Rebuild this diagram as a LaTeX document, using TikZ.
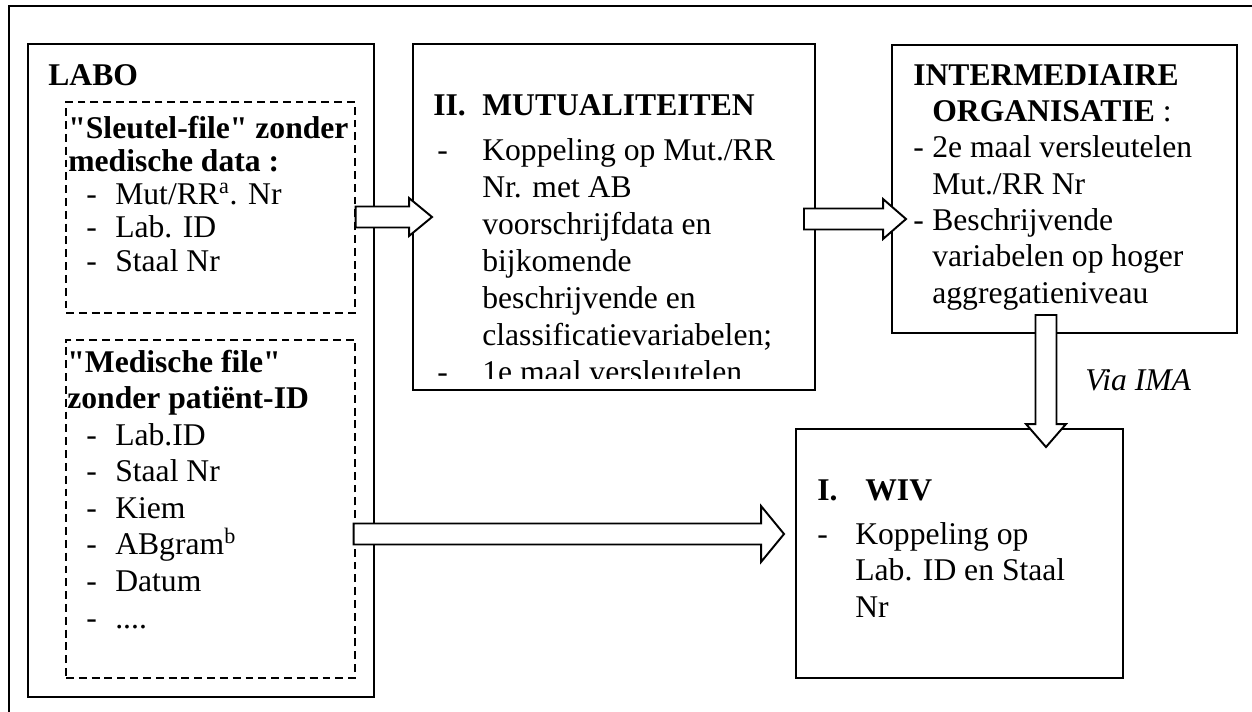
\documentclass[tikz,border=0pt]{standalone}
\usepackage{fontspec}
\setmainfont{Liberation Serif}
\usetikzlibrary{calc, fit}

\newlength{\px}
\setlength{\px}{0.02cm}

% dash of a list item: indent, then room up to the text
\newcommand{\dashit}[2]{\hspace*{#1\px}\makebox[#2\px][l]{-}}

% hollow block arrows: start, tip, half width of the head
\newcommand{\harrow}[3]{%
  \draw[blockarrow] let \p1=(#1), \p2=(#2) in
    ($(\x1,\y1)+(0,-10.5)$) -- ($(\x2,\y1)+(-23,-10.5)$) -- ($(\x2,\y1)+(-23,-#3)$)
    -- (\x2,\y1) -- ($(\x2,\y1)+(-23,#3)$) -- ($(\x2,\y1)+(-23,10.5)$)
    -- ($(\x1,\y1)+(0,10.5)$) -- cycle;}
\newcommand{\varrow}[3]{%
  \draw[blockarrow] let \p1=(#1), \p2=(#2) in
    ($(\x1,\y1)+(-10.5,0)$) -- ($(\x1,\y2)+(-10.5,-23)$) -- ($(\x1,\y2)+(-#3,-23)$)
    -- (\x1,\y2) -- ($(\x1,\y2)+(#3,-23)$) -- ($(\x1,\y2)+(10.5,-23)$)
    -- ($(\x1,\y1)+(10.5,0)$) -- cycle;}

\begin{document}
\begin{tikzpicture}[
    x=0.02cm, y=-0.02cm,
    frame/.style={line width=1.1pt},
    box/.style={
        rectangle,
        draw=black,
        line width=1.1pt,
        inner sep=0pt
    },
    filebox/.style={
        rectangle,
        draw=black,
        line width=0.8pt,
        dash pattern=on 4.5pt off 2.8pt,
        inner sep=0pt
    },
    txt/.style={
        anchor=base west,
        inner sep=0pt,
        align=left,
        font=\fontsize{18}{20.7}\selectfont
    },
    blockarrow/.style={
        draw=black,
        fill=white,
        line width=1.1pt,
        line join=miter
    }
]
\useasboundingbox (0,0) rectangle (1252,711);

% outer frame
\draw[frame] (9,720) -- (9,6) -- (1260,6);

% LABO (multi-line texts sit on the baseline of their last line)
\node[box, fit={(28,44) (374,697)}] (labo) {};
\node[txt] (labotitle) at (48,85) {\textbf{LABO}};
\node[filebox, fit={(66,102) (355,313)}] (sleutel) {};
\node[txt, font=\fontsize{18}{18.9}\selectfont] (sleuteltext) at (68,271) {%
    \textbf{\textquotedbl Sleutel-file\textquotedbl{} zonder}\\
    \textbf{medische data :}\\
    \dashit{18}{29}Mut/RR\textsuperscript{a}. Nr\\
    \dashit{18}{29}Lab. ID\\
    \dashit{18}{29}Staal Nr};
\node[filebox, fit={(66,340) (355,678)}] (medfile) {};
\node[txt, font=\fontsize{18}{20.8}\selectfont] (medtext) at (67,628) {%
    \textbf{\textquotedbl Medische file\textquotedbl}\\
    \textbf{zonder patiënt-ID}\\
    \dashit{19}{29}Lab.ID\\
    \dashit{19}{29}Staal Nr\\
    \dashit{19}{29}Kiem\\
    \dashit{19}{29}ABgram\textsuperscript{b}\\
    \dashit{19}{29}Datum\\
    \dashit{19}{29}....};

% II. Mutualiteiten
\node[box, fit={(413,44) (815,390)}] (mut) {};
\node[txt] (muttitle) at (433,115) {\textbf{\makebox[49\px][l]{II.}MUTUALITEITEN}};
\begin{scope}
\clip (415,46) rectangle (813,378);
\node[txt, font=\fontsize{18}{21.05}\selectfont] (muttext) at (437,382) {%
    \dashit{0}{45}Koppeling op Mut./RR\\
    \hspace*{45\px}Nr. met AB\\
    \hspace*{45\px}voorschrijfdata en\\
    \hspace*{45\px}bijkomende\\
    \hspace*{45\px}beschrijvende en\\
    \hspace*{45\px}classificatievariabelen;\\
    \dashit{0}{45}1e maal versleutelen};
\end{scope}

% Intermediaire organisatie
\node[box, fit={(892,45) (1237,333)}] (inter) {};
\node[txt, font=\fontsize{18}{20.67}\selectfont] (intertext) at (913,303) {%
    \textbf{INTERMEDIAIRE}\\
    \hspace*{19\px}\textbf{ORGANISATIE} :\\
    \dashit{0}{19}2e maal versleutelen\\
    \hspace*{19\px}Mut./RR Nr\\
    \dashit{0}{19}Beschrijvende\\
    \hspace*{19\px}variabelen op hoger\\
    \hspace*{19\px}aggregatieniveau};

% I. WIV
\node[box, fit={(796,429) (1123,678)}] (wiv) {};
\node[txt] (wivtitle) at (817,500) {\textbf{\makebox[48\px][l]{I.}WIV}};
\node[txt, font=\fontsize{18}{20.5}\selectfont] (wivtext) at (817,617) {%
    \dashit{0}{38}Koppeling op\\
    \hspace*{38\px}Lab. ID en Staal\\
    \hspace*{38\px}Nr};

\node[txt, font=\fontsize{18}{20.7}\selectfont\itshape] (via) at (1085,390) {Via IMA};

% block arrows
\coordinate (a1s) at (sleutel.east |- mut.west);
\coordinate (a1t) at ($(mut.west)+(20,0)$);
\coordinate (a2s) at ($(mut.east)+(-12,2)$);
\coordinate (a2t) at ($(inter.west |- a2s)+(15,0)$);
\coordinate (a3s) at ($(medfile.east)+(-2,25)$);
\coordinate (a3t) at ($(wiv.west |- a3s)+(-11,0)$);
\coordinate (a4s) at ($(inter.south)+(-18.5,-19)$);
\coordinate (a4t) at ($(wiv.north -| a4s)+(0,19)$);
\harrow{a1s}{a1t}{19}
\harrow{a2s}{a2t}{20}
\harrow{a3s}{a3t}{28}
\varrow{a4s}{a4t}{20}

\end{tikzpicture}
\end{document}
